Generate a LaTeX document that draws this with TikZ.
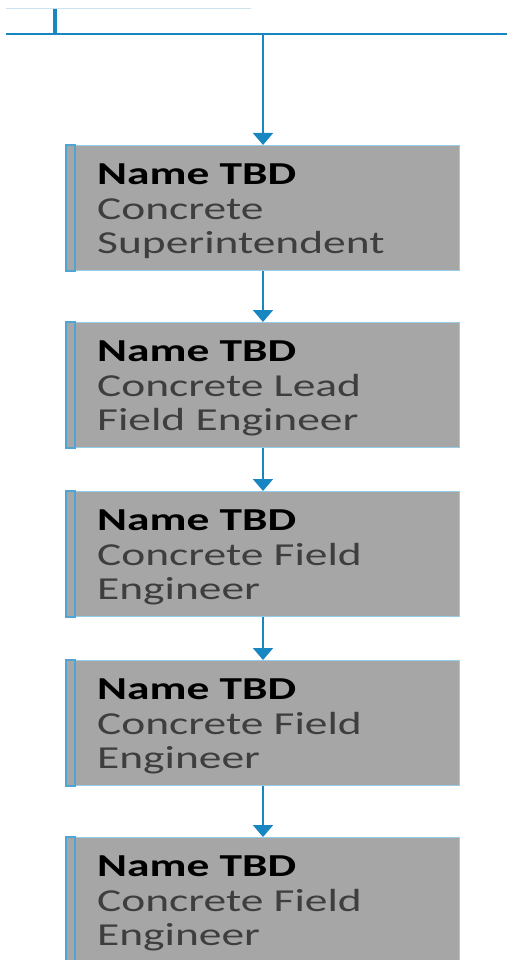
\documentclass[tikz,border=0pt]{standalone}
\usepackage{fontspec}
\usepackage{xcolor}
\usepackage{tikz}
\usetikzlibrary{arrows.meta,calc}
\setmainfont{Carlito}
\newfontfamily\boxfont[FakeStretch=1.42]{Carlito}
\definecolor{busblue}{RGB}{24,134,192}
\definecolor{edgeblue}{RGB}{150,205,232}
\definecolor{accentblue}{RGB}{80,165,212}
\definecolor{boxgray}{RGB}{166,166,166}
\definecolor{titlegray}{RGB}{62,62,62}
\definecolor{faintline}{RGB}{205,226,240}

\tikzset{
    rolebox/.style={draw=edgeblue, line width=1pt, fill=boxgray,
        minimum width=394pt, minimum height=125pt, inner sep=0pt, anchor=north west},
    roletext/.style={anchor=north west, inner sep=0pt, align=left, text=titlegray,
        font=\boxfont\fontsize{32}{34.5}\selectfont},
    accent/.style={draw=accentblue, line width=1.6pt, fill=boxgray},
    link/.style={busblue, line width=2pt, -{Triangle[width=20pt,length=12pt]}}
}

\begin{document}
\begin{tikzpicture}[x=1pt, y=-1pt]
    \useasboundingbox (0,0) rectangle (507,960);
    \clip (0,0) rectangle (507,960);

    % Bus at the top
    \draw[faintline, line width=1pt] (6,9) -- (251,9);
    \coordinate (busL) at (6,34);
    \coordinate (busR) at (507,34);
    \coordinate (busTap) at (263,34);
    \draw[busblue, line width=3.5pt] (55,9) -- (55,34);
    \draw[busblue, line width=2.5pt] (busL) -- (busR);

    % Concrete Superintendent
    \node[rolebox] (b1) at (65,145) {};
    \draw[accent] ([xshift=1pt]b1.north west) rectangle ([xshift=10pt]b1.south west);
    \node[roletext] (t1) at ([xshift=32pt, yshift=-19pt]b1.north west)
        {{\bfseries\color{black}Name TBD}\\Concrete\\Superintendent};

    % Concrete Lead Field Engineer
    \node[rolebox] (b2) at (65,322) {};
    \draw[accent] ([xshift=1pt]b2.north west) rectangle ([xshift=10pt]b2.south west);
    \node[roletext] (t2) at ([xshift=32pt, yshift=-19pt]b2.north west)
        {{\bfseries\color{black}Name TBD}\\Concrete Lead\\Field Engineer};

    % Concrete Field Engineer
    \node[rolebox] (b3) at (65,491) {};
    \draw[accent] ([xshift=1pt]b3.north west) rectangle ([xshift=10pt]b3.south west);
    \node[roletext] (t3) at ([xshift=32pt, yshift=-19pt]b3.north west)
        {{\bfseries\color{black}Name TBD}\\Concrete Field\\Engineer};

    % Concrete Field Engineer
    \node[rolebox] (b4) at (65,660) {};
    \draw[accent] ([xshift=1pt]b4.north west) rectangle ([xshift=10pt]b4.south west);
    \node[roletext] (t4) at ([xshift=32pt, yshift=-19pt]b4.north west)
        {{\bfseries\color{black}Name TBD}\\Concrete Field\\Engineer};

    % Concrete Field Engineer
    \node[rolebox] (b5) at (65,837) {};
    \draw[accent] ([xshift=1pt]b5.north west) rectangle ([xshift=10pt]b5.south west);
    \node[roletext] (t5) at ([xshift=32pt, yshift=-19pt]b5.north west)
        {{\bfseries\color{black}Name TBD}\\Concrete Field\\Engineer};

    % Connectors
    \draw[link] (busTap) -- (b1.north -| busTap);
    \draw[link] (b1.south -| busTap) -- (b2.north -| busTap);
    \draw[link] (b2.south -| busTap) -- (b3.north -| busTap);
    \draw[link] (b3.south -| busTap) -- (b4.north -| busTap);
    \draw[link] (b4.south -| busTap) -- (b5.north -| busTap);
\end{tikzpicture}
\end{document}
